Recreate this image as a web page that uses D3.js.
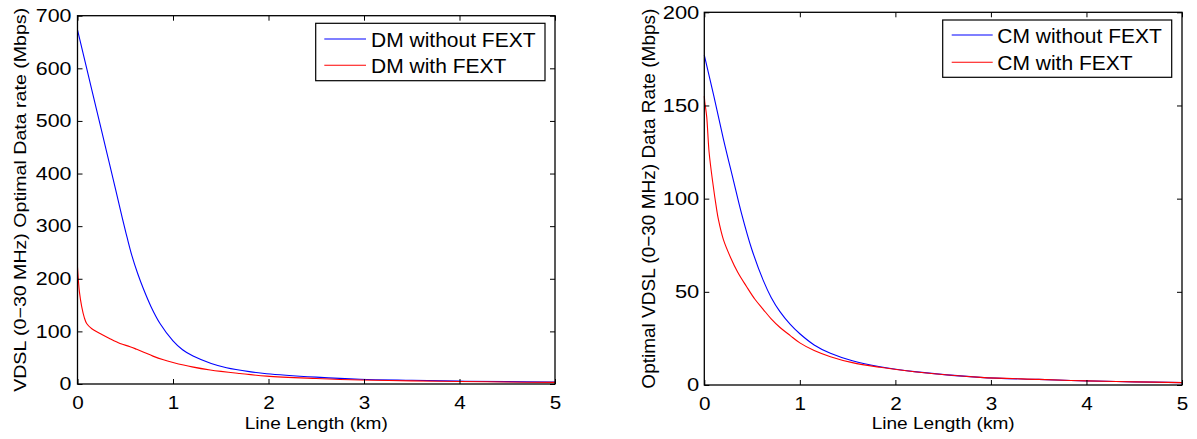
<!DOCTYPE html>
<html><head><meta charset="utf-8">
<script src="https://cdn.jsdelivr.net/npm/d3@7"></script>
<style>body{margin:0;background:#fff}svg{display:block}text{font-family:"Liberation Sans",Arial,Helvetica,sans-serif;fill:#000}</style>
</head><body><svg id="c" width="1197" height="439"></svg>
<script>
// ---- Data ----
const xTicks = [0, 1, 2, 3, 4, 5];
const dmYTicks = [0, 100, 200, 300, 400, 500, 600, 700];
const cmYTicks = [0, 50, 100, 150, 200];

const dmNoFextKm  = [0, 0.1, 0.2, 0.3, 0.4, 0.47, 0.52, 0.568, 0.63, 0.69, 0.77, 0.864, 1.0, 1.1, 1.21, 1.4, 1.56, 1.8, 1.98, 2.5, 2.96, 3.5, 4, 4.5, 5];
const dmNoFextVal = [673, 597, 521, 445, 369, 315, 278, 245, 210, 181, 147, 115, 82, 65, 53, 39, 31, 23.5, 19.5, 13, 9, 7, 5.5, 4.5, 3.5];
const dmFextKm    = [0, 0.01, 0.02, 0.044, 0.07, 0.096, 0.15, 0.236, 0.33, 0.445, 0.55, 0.62, 0.7, 0.79, 0.9, 1.0, 1.2, 1.39, 1.7, 1.98, 2.5, 2.96, 3.5, 4, 4.5, 5];
const dmFextVal   = [222, 195, 175, 147, 127, 115, 105, 96, 87, 77, 71, 66, 60, 53, 46, 41, 32.5, 26.6, 20, 15, 10.5, 7.6, 6, 4.8, 3.8, 3];

const cmNoFextKm  = [0, 0.1, 0.2, 0.304, 0.39, 0.496, 0.618, 0.7, 0.79, 0.9, 1.0, 1.15, 1.32, 1.55, 1.84, 2.2, 2.89, 3.5, 4, 4.5, 5];
const cmNoFextVal = [177, 155, 132, 110, 92, 73, 56, 47, 39.5, 32.5, 27.5, 21.5, 17, 13, 9.8, 7.2, 4.1, 3.0, 2.2, 1.7, 1.3];
const cmFextKm    = [0, 0.005, 0.025, 0.05, 0.085, 0.13, 0.147, 0.2, 0.27, 0.35, 0.44, 0.53, 0.618, 0.7, 0.79, 0.9, 1.0, 1.15, 1.32, 1.55, 1.84, 2.2, 2.89, 3.5, 4, 4.5, 5];
const cmFextVal   = [155, 152, 144, 125, 110, 94, 89, 78, 69, 60.5, 53, 46, 40.5, 35.5, 31, 26.5, 22.6, 18.5, 15.2, 12, 9.5, 7.1, 4.1, 3, 2.2, 1.7, 1.3];

const dmLegend = ["DM without FEXT", "DM with FEXT"];
const cmLegend = ["CM without FEXT", "CM with FEXT"];
const xLabel = "Line Length (km)";
const dmYLabel = "VDSL (0\u221230 MHz) Optimal Data rate (Mbps)";
const cmYLabel = "Optimal VDSL (0\u221230 MHz) Data Rate (Mbps)";
const colors = ["#0000ff", "#ff0000"];

const svg = d3.select("#c");

function stretch(sel, per) {
  sel.each(function() {
    const t = d3.select(this);
    const n = t.text().length;
    t.attr("textLength", per * n).attr("lengthAdjust", "spacingAndGlyphs");
  });
}

function panel(o) {
  const x = d3.scaleLinear().domain([0, 5]).range([o.left, o.right]);
  const y = d3.scaleLinear().domain([0, o.ymax]).range([o.bottom, o.top]);
  const g = svg.append("g");

  // lines
  const line = d3.line().x(d => x(d[0])).y(d => y(d[1])).curve(d3.curveCatmullRom.alpha(0.5));
  o.series.forEach((s, i) => {
    g.append("path").datum(d3.zip(s[0], s[1]))
      .attr("d", line).attr("fill", "none")
      .attr("stroke", colors[i]).attr("stroke-width", 1.1);
  });

  // axes
  const ax = (gen, tr) => g.append("g").attr("transform", tr).call(gen);
  const bottom = ax(d3.axisBottom(x).tickValues(xTicks).tickSizeInner(-5).tickSizeOuter(0).tickFormat(d3.format("d")), `translate(0,${o.bottom})`);
  ax(d3.axisTop(x).tickValues(xTicks).tickSizeInner(-5).tickSizeOuter(0).tickFormat(""), `translate(0,${o.top})`);
  const left = ax(d3.axisLeft(y).tickValues(o.yTicks).tickSizeInner(-5).tickSizeOuter(0).tickPadding(o.ypad).tickFormat(d3.format("d")), `translate(${o.left},0)`);
  ax(d3.axisRight(y).tickValues(o.yTicks).tickSizeInner(-5).tickSizeOuter(0).tickFormat(""), `translate(${o.right},0)`);
  g.selectAll(".domain").remove();
  g.selectAll(".tick line").attr("stroke", "#000").attr("stroke-width", 1);
  bottom.selectAll("text").attr("dy", null).attr("y", 25).attr("font-size", 18).attr("font-family", null);
  left.selectAll("text").attr("font-size", 18).attr("font-family", null);
  stretch(bottom.selectAll("text"), 11.5);
  stretch(left.selectAll("text"), o.digitW);

  g.append("rect").attr("x", o.left).attr("y", o.top)
    .attr("width", o.right - o.left).attr("height", o.bottom - o.top)
    .attr("fill", "none").attr("stroke", "#000").attr("stroke-width", 1.3);

  // axis labels
  g.append("text").attr("x", (o.left + o.right) / 2).attr("y", 429)
    .attr("text-anchor", "middle").attr("font-size", 17)
    .attr("textLength", 143).attr("lengthAdjust", "spacingAndGlyphs").text(xLabel);
  g.append("text").attr("transform", `translate(${o.ylx},${(o.top + o.bottom) / 2}) rotate(-90)`)
    .attr("text-anchor", "middle").attr("font-size", o.ylfs)
    .attr("textLength", o.yllen).attr("lengthAdjust", "spacingAndGlyphs").text(o.ylabel);

  // legend
  const L = o.legend;
  g.append("rect").attr("x", L.x0).attr("y", L.y0).attr("width", L.x1 - L.x0).attr("height", L.y1 - L.y0)
    .attr("fill", "#fff").attr("stroke", "#000").attr("stroke-width", 1.2);
  o.legendText.forEach((t, i) => {
    g.append("line").attr("x1", L.lx0).attr("x2", L.lx1).attr("y1", L.ly[i]).attr("y2", L.ly[i])
      .attr("stroke", colors[i]).attr("stroke-width", 1.1);
    g.append("text").attr("x", L.tx).attr("y", L.ty[i]).attr("font-size", 21).text(t);
  });
}

panel({
  left: 77.5, right: 555, top: 15.7, bottom: 384, ymax: 700, yTicks: dmYTicks, ypad: 6, digitW: 11.9,
  series: [[dmNoFextKm, dmNoFextVal], [dmFextKm, dmFextVal]],
  ylabel: dmYLabel, ylx: 26, ylfs: 17, yllen: 384,
  legendText: dmLegend,
  legend: {x0: 315.7, x1: 545, y0: 23.3, y1: 80.7, lx0: 324.3, lx1: 366, ly: [39, 65.3], tx: 371, ty: [46.7, 73]}
});
panel({
  left: 704.3, right: 1182, top: 12.3, bottom: 385, ymax: 200, yTicks: cmYTicks, ypad: 5, digitW: 12.2,
  series: [[cmNoFextKm, cmNoFextVal], [cmFextKm, cmFextVal]],
  ylabel: cmYLabel, ylx: 655, ylfs: 19, yllen: 380,
  legendText: cmLegend,
  legend: {x0: 942.7, x1: 1171.7, y0: 20, y1: 77.3, lx0: 951.7, lx1: 992.7, ly: [35, 62.3], tx: 997.3, ty: [43.3, 69.7]}
});
</script></body></html>
